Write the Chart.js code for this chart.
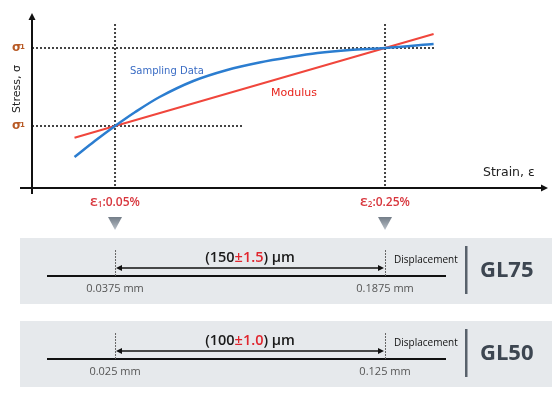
<!DOCTYPE html>
<html>
<head>
<meta charset="utf-8">
<script src="https://cdn.jsdelivr.net/npm/chart.js@4.4.1/dist/chart.umd.min.js"></script>
<style>
  body { margin: 0; background: #fff; }
  canvas { display: block; }
</style>
</head>
<body>
<canvas id="strain-chart" width="552" height="393"></canvas>
<script>
// Strain marks (%), stress marks (arbitrary units)
const strainMarks = [0.05, 0.25];
const strainLabels = ['0.05%', '0.25%'];
const stressMarks = [62, 140];

// Sampling data curve
const sampleStrain = [0.02, 0.035, 0.05, 0.065, 0.083, 0.108, 0.133, 0.157, 0.18, 0.2, 0.224, 0.25, 0.286];
const sampleStress = [31, 47, 62, 76, 91, 107, 118, 125.5, 131, 135, 138, 140, 144];

// Modulus line
const modulusStrain = [0.02, 0.05, 0.25, 0.286];
const modulusStress = [50.3, 62, 140, 154];

// Gauge length panels
const gaugeNames = ['GL75', 'GL50'];
const dispStart = ['0.0375 mm', '0.025 mm'];
const dispEnd = ['0.1875 mm', '0.125 mm'];
const dispSpan = ['150', '100'];
const dispTol = ['1.5', '1.0'];

const chartCanvas = document.getElementById('strain-chart');

function toPoints(xs, ys) {
    return xs.map((x, i) => ({ x: x, y: ys[i] }));
}

function dotted(ctx, x1, y1, x2, y2) {
    ctx.save();
    ctx.strokeStyle = '#444';
    ctx.lineWidth = 2;
    ctx.setLineDash([2, 2]);
    ctx.beginPath();
    ctx.moveTo(x1, y1);
    ctx.lineTo(x2, y2);
    ctx.stroke();
    ctx.restore();
}

function arrowHead(ctx, x, y, dx, dy, len, half) {
    // dx,dy = unit direction of the tip
    ctx.beginPath();
    ctx.moveTo(x, y);
    ctx.lineTo(x - dx * len - dy * half, y - dy * len + dx * half);
    ctx.lineTo(x - dx * len + dy * half, y - dy * len - dx * half);
    ctx.closePath();
    ctx.fill();
}

// Draw axes, guide lines, labels and the gauge panels
const diagramPlugin = {
    id: 'diagram',
    beforeDatasetsDraw(chart) {
        const ctx = chart.ctx;
        const xs = chart.scales.x;
        const ys = chart.scales.y;
        const x0 = xs.left;
        const y0 = ys.bottom;

        // guide lines
        const ex1 = xs.getPixelForValue(strainMarks[0]);
        const ex2 = xs.getPixelForValue(strainMarks[1]);
        const sy1 = ys.getPixelForValue(stressMarks[0]);
        const sy2 = ys.getPixelForValue(stressMarks[1]);
        const top = ys.getPixelForValue(164);
        dotted(ctx, ex1, top, ex1, y0);
        dotted(ctx, ex2, top, ex2, y0);
        dotted(ctx, x0, sy1, xs.getPixelForValue(0.1455), sy1);
        dotted(ctx, x0, sy2, xs.getPixelForValue(0.2863), sy2);

        // axes
        ctx.save();
        ctx.strokeStyle = '#111';
        ctx.fillStyle = '#111';
        ctx.lineWidth = 2;
        ctx.beginPath();
        ctx.moveTo(x0, y0 + 6);
        ctx.lineTo(x0, ys.top + 4);
        ctx.moveTo(20, y0);
        ctx.lineTo(xs.right - 4, y0);
        ctx.stroke();
        arrowHead(ctx, x0, ys.top - 1, 0, -1, 7, 3.5);
        arrowHead(ctx, xs.right + 1, y0, 1, 0, 7, 3.5);
        ctx.restore();
    },
    afterDatasetsDraw(chart) {
        const ctx = chart.ctx;
        const xs = chart.scales.x;
        const ys = chart.scales.y;
        const y0 = ys.bottom;
        ctx.save();
        ctx.textBaseline = 'middle';

        // axis titles
        ctx.fillStyle = '#222';
        ctx.font = '12.5px "DejaVu Sans"';
        ctx.textAlign = 'left';
        ctx.fillText('Strain, ε', 483, y0 - 15);
        ctx.save();
        ctx.translate(17, 89);
        ctx.rotate(-Math.PI / 2);
        ctx.textAlign = 'center';
        ctx.font = '11px "DejaVu Sans"';
        ctx.fillText('Stress, σ', 0, 0);
        ctx.restore();

        // σ1 labels
        stressMarks.forEach(v => {
            const py = ys.getPixelForValue(v);
            ctx.fillStyle = '#b85a25';
            ctx.font = 'bold 12px "DejaVu Sans"';
            ctx.textAlign = 'left';
            ctx.fillText('σ', 12, py);
            ctx.font = 'bold 7px "DejaVu Sans"';
            ctx.fillText('1', 20, py - 1);
        });

        // series labels
        ctx.textAlign = 'left';
        ctx.fillStyle = '#3a6cc4';
        ctx.font = '10px "DejaVu Sans"';
        ctx.fillText('Sampling Data', 130, 71);
        ctx.fillStyle = '#e8231c';
        ctx.font = '11px "DejaVu Sans"';
        ctx.fillText('Modulus', 271, 93);

        // strain marks + triangles
        strainMarks.forEach((v, i) => {
            const px = xs.getPixelForValue(v);
            ctx.fillStyle = '#d8363d';
            ctx.font = '600 15px "Open Sans"';
            const wE = ctx.measureText('ε').width;
            ctx.font = '600 8px "Open Sans"';
            const wS = ctx.measureText(String(i + 1)).width;
            ctx.font = '600 12px "Open Sans"';
            const rest = ':' + strainLabels[i];
            const wR = ctx.measureText(rest).width;
            let sx = px - (wE + wS + wR) / 2;
            ctx.textAlign = 'left';
            ctx.font = '600 15px "Open Sans"';
            ctx.fillText('ε', sx, 202);
            ctx.font = '600 8px "Open Sans"';
            ctx.fillText(String(i + 1), sx + wE, 205);
            ctx.font = '600 12px "Open Sans"';
            ctx.fillText(rest, sx + wE + wS, 203);

            const g = ctx.createLinearGradient(0, 217, 0, 230);
            g.addColorStop(0, '#737d88');
            g.addColorStop(1, '#b9c0c8');
            ctx.fillStyle = g;
            ctx.beginPath();
            ctx.moveTo(px - 7, 217);
            ctx.lineTo(px + 7, 217);
            ctx.lineTo(px, 230);
            ctx.closePath();
            ctx.fill();
        });

        // gauge panels
        const ex1 = xs.getPixelForValue(strainMarks[0]);
        const ex2 = xs.getPixelForValue(strainMarks[1]);
        const panelTops = [238, 321];
        gaugeNames.forEach((name, i) => {
            const t = panelTops[i];
            ctx.fillStyle = '#e6e9ec';
            ctx.fillRect(20, t, 532, 66);

            // base line
            const baseY = t + 38;
            ctx.strokeStyle = '#111';
            ctx.lineWidth = 2;
            ctx.beginPath();
            ctx.moveTo(47, baseY);
            ctx.lineTo(446, baseY);
            ctx.stroke();

            // dashed verticals
            ctx.save();
            ctx.strokeStyle = '#666';
            ctx.lineWidth = 1;
            ctx.setLineDash([2, 1]);
            ctx.beginPath();
            ctx.moveTo(ex1 + 0.5, t + 12);
            ctx.lineTo(ex1 + 0.5, baseY);
            ctx.moveTo(ex2 + 0.5, t + 12);
            ctx.lineTo(ex2 + 0.5, baseY);
            ctx.stroke();
            ctx.restore();

            // span arrow
            const ay = t + 30;
            ctx.strokeStyle = '#111';
            ctx.fillStyle = '#111';
            ctx.lineWidth = 1.5;
            ctx.beginPath();
            ctx.moveTo(ex1 + 4, ay);
            ctx.lineTo(ex2 - 4, ay);
            ctx.stroke();
            arrowHead(ctx, ex1 + 1, ay, -1, 0, 6, 3);
            arrowHead(ctx, ex2 - 1, ay, 1, 0, 6, 3);

            // span text
            ctx.font = '600 14.5px "Open Sans"';
            const p1 = '(' + dispSpan[i];
            const p2 = '±' + dispTol[i];
            const p3 = ') μm';
            const w1 = ctx.measureText(p1).width;
            const w2 = ctx.measureText(p2).width;
            const w3 = ctx.measureText(p3).width;
            let tx = (ex1 + ex2) / 2 - (w1 + w2 + w3) / 2;
            const ty = t + 20;
            ctx.textAlign = 'left';
            ctx.fillStyle = '#1a1a1a';
            ctx.fillText(p1, tx, ty);
            ctx.fillStyle = '#e0262e';
            ctx.fillText(p2, tx + w1, ty);
            ctx.fillStyle = '#1a1a1a';
            ctx.fillText(p3, tx + w1 + w2, ty);

            // end values
            ctx.font = '11px "Open Sans"';
            ctx.fillStyle = '#555';
            ctx.textAlign = 'center';
            ctx.fillText(dispStart[i], ex1, t + 51);
            ctx.fillText(dispEnd[i], ex2, t + 51);

            // displacement label
            ctx.font = '10px "Open Sans"';
            ctx.fillStyle = '#111';
            ctx.textAlign = 'left';
            ctx.fillText('Displacement', 394, t + 22);

            // separator bar
            ctx.fillStyle = '#58616b';
            ctx.fillRect(465, t + 8, 2.5, 48);

            // gauge name
            ctx.font = 'bold 22px "Open Sans"';
            ctx.fillStyle = '#3d4651';
            ctx.fillText(name, 480, t + 33);
        });

        ctx.restore();
    }
};

new Chart(chartCanvas.getContext('2d'), {
    type: 'scatter',
    data: {
        datasets: [{
            label: 'Sampling Data',
            data: toPoints(sampleStrain, sampleStress),
            showLine: true,
            borderColor: '#2b7dd0',
            borderWidth: 2.5,
            pointRadius: 0,
            tension: 0.3
        }, {
            label: 'Modulus',
            data: toPoints(modulusStrain, modulusStress),
            showLine: true,
            borderColor: '#f0463c',
            borderWidth: 2,
            pointRadius: 0
        }]
    },
    options: {
        responsive: false,
        animation: false,
        layout: { padding: { left: 32, right: 5, top: 14, bottom: 205 } },
        scales: {
            x: { type: 'linear', display: false, min: -0.0115, max: 0.37 },
            y: { type: 'linear', display: false, min: 0, max: 174 }
        },
        plugins: {
            legend: { display: false },
            tooltip: { enabled: false }
        }
    },
    plugins: [diagramPlugin]
});
</script>
</body>
</html>
